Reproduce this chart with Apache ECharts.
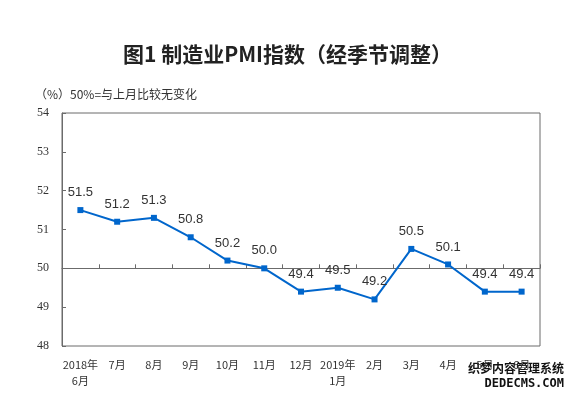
<!DOCTYPE html>
<html>
<head>
<meta charset="utf-8">
<script src="https://cdn.jsdelivr.net/npm/echarts@6/dist/echarts.min.js"></script>
<style>
  html, body { margin: 0; padding: 0; background: #fff; }
  #chart { width: 575px; height: 396px; }
</style>
</head>
<body>
<div id="chart"></div>
<script>
// 月份
const months = ['2018年\n6月', '7月', '8月', '9月', '10月', '11月', '12月',
  '2019年\n1月', '2月', '3月', '4月', '5月', '6月'];
// 制造业PMI（经季节调整）
const pmiValues = [51.5, 51.2, 51.3, 50.8, 50.2, 50.0, 49.4, 49.5, 49.2, 50.5, 50.1, 49.4, 49.4];
// 纵轴
const yMin = 48;
const yMax = 54;
const yStep = 1;

const chart = echarts.init(document.getElementById('chart'));

const option = {
  animation: false,
  backgroundColor: '#fff',
  title: {
    text: '图1 制造业PMI指数（经季节调整）',
    left: 'center',
    top: 39,
    textStyle: {
      fontFamily: 'Noto Sans CJK SC',
      fontSize: 21,
      fontWeight: 'bold',
      color: '#222'
    }
  },
  graphic: [
    {
      type: 'text',
      left: 35,
      top: 88,
      style: {
        text: '（%）50%=与上月比较无变化',
        font: '12px "Noto Sans CJK SC"',
        fill: '#333'
      }
    },
    {
      type: 'text',
      right: 10,
      top: 361,
      style: {
        text: '织梦内容管理系统',
        font: 'bold 12px "Noto Sans CJK SC"',
        fill: '#111',
        stroke: '#fff',
        lineWidth: 2
      }
    },
    {
      type: 'text',
      right: 10,
      top: 377,
      style: {
        text: 'DEDECMS.COM',
        font: 'bold 12px "DejaVu Sans Mono"',
        fill: '#111',
        stroke: '#fff',
        lineWidth: 2
      }
    }
  ],
  grid: {
    left: 62,
    right: 35,
    top: 113,
    bottom: 50,
    show: true,
    borderColor: '#6b6b6b',
    borderWidth: 1
  },
  xAxis: [
    {
      type: 'category',
      data: months,
      boundaryGap: true,
      axisLine: { show: false },
      axisTick: { show: false },
      axisLabel: {
        interval: 0,
        margin: 11,
        fontFamily: 'Noto Sans CJK SC',
        fontSize: 11,
        lineHeight: 16,
        color: '#333'
      }
    },
    {
      // 50%线，刻度朝上
      type: 'category',
      data: months,
      position: 'bottom',
      offset: -77.7,
      boundaryGap: true,
      axisLine: { show: true, lineStyle: { color: '#6b6b6b', width: 1 } },
      axisTick: { show: true, interval: 0, inside: true, length: 4, lineStyle: { color: '#6b6b6b' } },
      axisLabel: { show: false }
    }
  ],
  yAxis: {
    type: 'value',
    min: yMin,
    max: yMax,
    interval: yStep,
    axisLine: { show: true, lineStyle: { color: '#6b6b6b' } },
    axisTick: { show: true, inside: true, length: 4, lineStyle: { color: '#6b6b6b' } },
    splitLine: { show: false },
    axisLabel: {
      margin: 13,
      fontFamily: 'Liberation Serif',
      fontSize: 12,
      color: '#333'
    }
  },
  series: [
    {
      type: 'line',
      data: pmiValues,
      xAxisIndex: 0,
      symbol: 'rect',
      symbolSize: 6,
      lineStyle: { color: '#0066cc', width: 2 },
      itemStyle: { color: '#0066cc' },
      label: {
        show: true,
        position: 'top',
        distance: 8,
        fontFamily: 'Liberation Sans',
        fontSize: 13,
        color: '#333',
        formatter: p => p.value.toFixed(1)
      }
    }
  ]
};

chart.setOption(option);
</script>
</body>
</html>
